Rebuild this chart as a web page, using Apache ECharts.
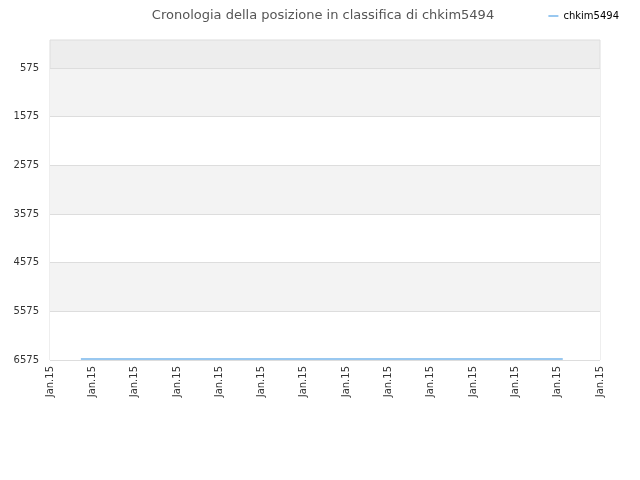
<!DOCTYPE html>
<html>
<head>
<meta charset="utf-8">
<script src="https://cdn.jsdelivr.net/npm/echarts@6/dist/echarts.min.js"></script>
<style>html,body{margin:0;padding:0;background:#fff}#c{width:640px;height:480px}</style>
</head>
<body>
<div id="c"></div>
<script>
var titleText = 'Cronologia della posizione in classifica di chkim5494';
var seriesName = 'chkim5494';
var xTickLabels = ['Jan.15','Jan.15','Jan.15','Jan.15','Jan.15','Jan.15','Jan.15','Jan.15','Jan.15','Jan.15','Jan.15','Jan.15','Jan.15','Jan.15'];
var yTickValues = [575, 1575, 2575, 3575, 4575, 5575, 6575];
var xPositions = [0.73, 12.12];
var rankValues = [6555, 6555];

var chart = echarts.init(document.getElementById('c'));
chart.setOption({
  animation: false,
  title: {
    text: titleText, left: 318, top: 4, textAlign: 'center',
    textStyle: {fontFamily: 'DejaVu Sans', fontSize: 13, fontWeight: 'normal', color: '#555'}
  },
  legend: {
    right: 16, top: 6, itemWidth: 10, itemHeight: 2, itemGap: 5,
    icon: 'rect',
    textStyle: {fontFamily: 'DejaVu Sans', fontSize: 10, color: '#000'},
    data: [seriesName]
  },
  grid: {
    left: 50, right: 40, top: 40, bottom: 120,
    show: true, backgroundColor: '#ededed', borderColor: '#dddddd', borderWidth: 1
  },
  xAxis: {
    type: 'value', min: 0, max: xTickLabels.length - 1, interval: 1,
    axisLine: {show: false}, axisTick: {show: false}, splitLine: {show: false},
    axisLabel: {
      rotate: 90, margin: 6, fontFamily: 'DejaVu Sans', fontSize: 10, color: '#333',
      formatter: function (v) { return xTickLabels[Math.round(v)]; }
    }
  },
  yAxis: {
    type: 'value', inverse: true, min: 0, max: 6575,
    axisLine: {show: false},
    axisTick: {show: false, customValues: yTickValues},
    axisLabel: {customValues: yTickValues, fontFamily: 'DejaVu Sans', fontSize: 10, color: '#333', margin: 11,
      formatter: function (v) { return String(v); }},
    splitLine: {show: true, lineStyle: {color: '#dddddd', width: 1}},
    splitArea: {show: true, areaStyle: {color: ['#f3f3f3', '#ffffff']}}
  },
  series: [{
    name: seriesName, type: 'line', symbol: 'none',
    lineStyle: {color: '#99c8f0', width: 2}, itemStyle: {color: '#99c8f0'},
    data: xPositions.map(function (x, i) { return [x, rankValues[i]]; })
  }]
});
</script>
</body>
</html>
